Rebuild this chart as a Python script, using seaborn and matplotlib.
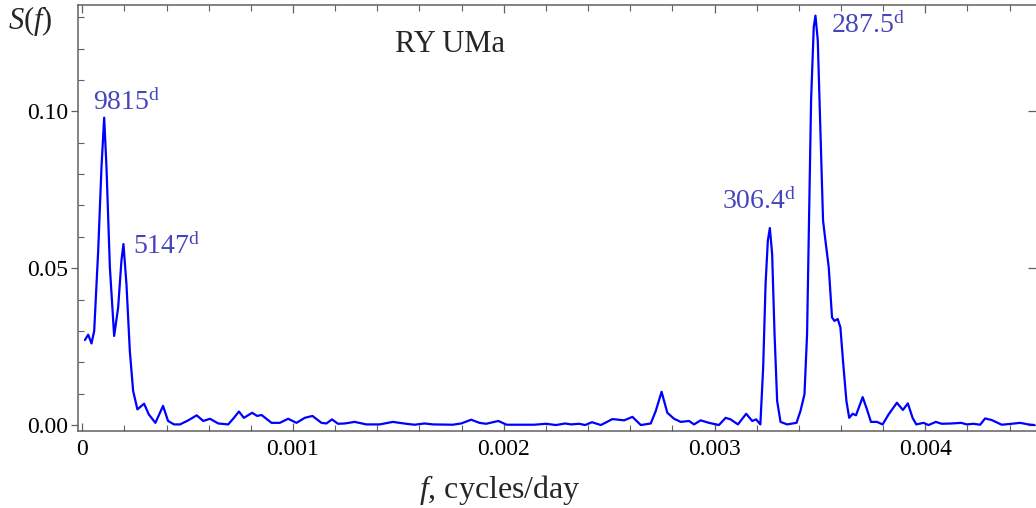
import matplotlib
matplotlib.use("Agg")
import matplotlib.pyplot as plt
import seaborn as sns
import numpy as np
from matplotlib.ticker import MultipleLocator, FuncFormatter, NullFormatter

# periodogram of RY UMa, frequency in units of 1e-3 cycles/day
freq_milli = [
    0.0128, 0.0284, 0.0440, 0.0568, 0.0758, 0.0914, 0.1042, 0.1151, 0.1312, 0.1515,
    0.1705, 0.1861, 0.1956, 0.2098, 0.2259, 0.2415, 0.2618, 0.2936, 0.3158, 0.3471,
    0.3835, 0.4072, 0.4356, 0.4640, 0.5033, 0.5431, 0.5743, 0.6061, 0.6454, 0.6927,
    0.7197, 0.7434, 0.7670, 0.8063, 0.8300, 0.8509, 0.8982, 0.9375, 0.9768, 1.0166,
    1.0559, 1.0923, 1.1350, 1.1586, 1.1851, 1.2135, 1.2453, 1.2926, 1.3480, 1.4110,
    1.4740, 1.5374, 1.5767, 1.6241, 1.6634, 1.7580, 1.7978, 1.8452, 1.8845, 1.9162,
    1.9744, 2.0137, 2.0739, 2.1449, 2.2003, 2.2476, 2.2917, 2.3187, 2.3580, 2.3864,
    2.4181, 2.4607, 2.5156, 2.5710, 2.6103, 2.6501, 2.6974, 2.7211, 2.7486, 2.7760,
    2.8078, 2.8395, 2.8788, 2.9025, 2.9342, 2.9735, 3.0208, 3.0525, 3.0762, 3.1108,
    3.1501, 3.1785, 3.1974, 3.2173, 3.2306, 3.2420, 3.2528, 3.2623, 3.2732, 3.2846,
    3.2969, 3.3130, 3.3442, 3.3887, 3.4077, 3.4266, 3.4389, 3.4470, 3.4579, 3.4706,
    3.4787, 3.4896, 3.5024, 3.5147, 3.5260, 3.5417, 3.5573, 3.5687, 3.5843, 3.5971,
    3.6094, 3.6255, 3.6387, 3.6553, 3.6709, 3.7027, 3.7230, 3.7420, 3.7704, 3.7973,
    3.8258, 3.8651, 3.8935, 3.9171, 3.9394, 3.9569, 3.9915, 4.0152, 4.0497, 4.0781,
    4.1255, 4.1700, 4.1965, 4.2282, 4.2600, 4.2836, 4.3149, 4.3622, 4.4096, 4.4493,
    4.4886, 4.5170,
]
power = [
    0.0271, 0.0288, 0.0260, 0.0300, 0.0556, 0.0822, 0.0980, 0.0822, 0.0503, 0.0284,
    0.0375, 0.0524, 0.0577, 0.0450, 0.0236, 0.0109, 0.0050, 0.0068, 0.0034, 0.0007,
    0.0061, 0.0013, 0.0002, 0.0002, 0.0015, 0.0031, 0.0013, 0.0020, 0.0005, 0.0002,
    0.0023, 0.0043, 0.0023, 0.0039, 0.0029, 0.0032, 0.0007, 0.0007, 0.0020, 0.0007,
    0.0023, 0.0029, 0.0007, 0.0005, 0.0018, 0.0004, 0.0005, 0.0010, 0.0002, 0.0002,
    0.0010, 0.0004, 0.0001, 0.0005, 0.0002, 0.0001, 0.0005, 0.0017, 0.0007, 0.0004,
    0.0013, 0.0001, 0.0001, 0.0001, 0.0004, 0.0000, 0.0005, 0.0002, 0.0004, 0.0000,
    0.0009, 0.0000, 0.0019, 0.0015, 0.0026, 0.0000, 0.0005, 0.0045, 0.0106, 0.0039,
    0.0020, 0.0010, 0.0013, 0.0002, 0.0015, 0.0007, 0.0000, 0.0023, 0.0018, 0.0002,
    0.0036, 0.0013, 0.0018, 0.0002, 0.0183, 0.0450, 0.0588, 0.0628, 0.0545, 0.0290,
    0.0077, 0.0010, 0.0002, 0.0007, 0.0045, 0.0098, 0.0290, 0.0609, 0.1035, 0.1269,
    0.1305, 0.1227, 0.0929, 0.0652, 0.0588, 0.0503, 0.0343, 0.0332, 0.0338, 0.0311,
    0.0204, 0.0077, 0.0023, 0.0036, 0.0031, 0.0089, 0.0050, 0.0010, 0.0010, 0.0002,
    0.0034, 0.0071, 0.0048, 0.0069, 0.0023, 0.0002, 0.0007, 0.0000, 0.0010, 0.0004,
    0.0005, 0.0007, 0.0002, 0.0004, 0.0001, 0.0021, 0.0016, 0.0001, 0.0004, 0.0007,
    0.0002, 0.0000,
]
peak_periods = [9815, 5147, 306.4, 287.5]
peak_labels = ["9815", "5147", "306.4", "287.5"]
label_offsets = [(-8, 17), (7, 0), (-35, 21), (11, -7)]  # points

freq = np.array(freq_milli) * 1e-3
power = np.array(power)

sns.set_theme(style="ticks")
plt.rcParams["font.family"] = ["Liberation Serif", "DejaVu Serif"]
plt.rcParams["mathtext.fontset"] = "custom"
plt.rcParams["mathtext.rm"] = "Liberation Serif"
plt.rcParams["mathtext.it"] = "Liberation Serif:italic"

fig = plt.figure(figsize=(10.36, 5.08), dpi=100)
ax = fig.add_axes([78 / 1036, 77 / 508, 1 - 78 / 1036, 426 / 508])

sns.lineplot(x=freq, y=power, color="#0000ff", lw=1.6, ax=ax)

ax.set_xlim(-0.00002, 0.004525)
ax.set_ylim(-0.0019, 0.1339)

frame = "#606060"
for side in ["left", "bottom", "top"]:
    ax.spines[side].set_color(frame)
    ax.spines[side].set_linewidth(1.1)
ax.spines["right"].set_visible(False)

ax.xaxis.set_major_locator(MultipleLocator(0.001))
ax.xaxis.set_minor_locator(MultipleLocator(0.0002))
ax.yaxis.set_major_locator(MultipleLocator(0.05))
ax.yaxis.set_minor_locator(MultipleLocator(0.01))
ax.xaxis.set_major_formatter(FuncFormatter(lambda v, p: "0" if abs(v) < 1e-9 else f"{v:.3f}"))
ax.yaxis.set_major_formatter(FuncFormatter(lambda v, p: f"{v:.2f}"))
ax.tick_params(which="both", color=frame, labelsize=17, labelcolor="black")
ax.tick_params(axis="x", which="both", direction="in", top=True, pad=6)
ax.tick_params(axis="x", which="major", length=6, width=0.9)
ax.tick_params(axis="x", which="minor", length=4, width=0.8)
ax.tick_params(axis="y", which="major", direction="out", length=5, width=0.9, pad=2)
ax.tick_params(axis="y", which="minor", direction="in", length=4, width=0.8)

# right frame ticks (inward, no labels)
sec = ax.secondary_yaxis("right")
sec.yaxis.set_major_locator(MultipleLocator(0.05))
sec.yaxis.set_minor_locator(MultipleLocator(0.01))
sec.yaxis.set_major_formatter(NullFormatter())
sec.spines["right"].set_visible(False)
sec.tick_params(which="both", direction="in", color=frame)
sec.tick_params(which="major", length=6, width=0.9)
sec.tick_params(which="minor", length=0)

ax.set_xlabel("")
ax.set_ylabel("")
fig.text(500 / 1036, 1 - 490 / 508, r"$\mathit{f}$, cycles/day", ha="center", va="center", fontsize=23)
fig.text(8 / 1036, 1 - 21 / 508, r"$\mathit{S}$($\mathit{f}$)", ha="left", va="center", fontsize=22)
ax.text(0.388, 0.908, "RY UMa", transform=ax.transAxes, ha="center", va="center", fontsize=22)

lab_color = "#4646bc"
for P, lab, off in zip(peak_periods, peak_labels, label_offsets):
    f0 = 1.0 / P
    s0 = np.interp(f0, freq, power)
    ax.annotate(lab + r"$^{\mathrm{d}}$", xy=(f0, s0), xytext=off, textcoords="offset points",
                ha="left", va="center", fontsize=20, color=lab_color)

fig.savefig("out.png", dpi=100)
plt.close(fig)
